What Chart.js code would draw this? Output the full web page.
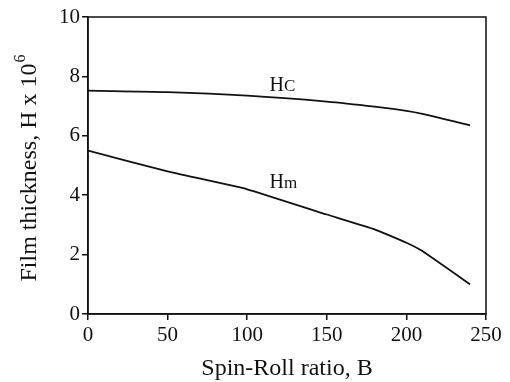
<!DOCTYPE html>
<html>
<head>
<meta charset="utf-8">
<script src="https://cdn.jsdelivr.net/npm/chart.js@4"></script>
<style>
  html, body { margin: 0; padding: 0; background: #fff; }
  #wrap { width: 510px; height: 382px; }
</style>
</head>
<body>
<div id="wrap"><canvas id="chart"></canvas></div>
<script>
// 数据
const ratioB = [0, 50, 100, 150, 180, 200, 210, 240];
const hcValues = [7.52, 7.47, 7.35, 7.15, 6.98, 6.84, 6.74, 6.35];
const hmValues = [5.5, 4.8, 4.2, 3.35, 2.85, 2.4, 2.12, 1.0];
const xTicks = [0, 50, 100, 150, 200, 250];
const yTicks = [0, 2, 4, 6, 8, 10];

const serif = '"Liberation Serif", "DejaVu Serif", serif';
const ink = '#111';

// 曲线标签、边框和坐标轴标题
const decorPlugin = {
    id: 'decor',
    afterDraw(chart) {
        const { ctx, chartArea: a, scales } = chart;
        ctx.save();
        ctx.strokeStyle = ink;
        ctx.lineWidth = 1.5;
        ctx.strokeRect(a.left, a.top, a.right - a.left, a.bottom - a.top);

        ctx.fillStyle = ink;
        ctx.textBaseline = 'alphabetic';
        ctx.textAlign = 'left';
        const lx = scales.x.getPixelForValue(114);
        drawSub(ctx, 'H', 'C', lx, scales.y.getPixelForValue(7.51));
        drawSub(ctx, 'H', 'm', lx, scales.y.getPixelForValue(4.24));

        // x title
        ctx.font = '24px ' + serif;
        ctx.textAlign = 'center';
        ctx.fillText('Spin-Roll ratio, B', (a.left + a.right) / 2, 375);

        // y title with superscript
        ctx.translate(36, (a.top + a.bottom) / 2 + 3);
        ctx.rotate(-Math.PI / 2);
        const main = 'Film thickness, H x 10';
        ctx.font = '24px ' + serif;
        const w1 = ctx.measureText(main).width;
        ctx.font = '16px ' + serif;
        const w2 = ctx.measureText('6').width;
        const start = -(w1 + w2) / 2;
        ctx.textAlign = 'left';
        ctx.font = '24px ' + serif;
        ctx.fillText(main, start, 0);
        ctx.font = '16px ' + serif;
        ctx.fillText('6', start + w1 + 1, -11);
        ctx.restore();
    }
};

function drawSub(ctx, big, small, x, y) {
    ctx.font = '20px ' + serif;
    ctx.fillText(big, x, y);
    const w = ctx.measureText(big).width;
    ctx.font = '17px ' + serif;
    ctx.fillText(small, x + w, y);
}

const ctx = document.getElementById('chart').getContext('2d');
new Chart(ctx, {
    type: 'line',
    data: {
        datasets: [
            {
                label: 'Hc',
                data: ratioB.map((b, i) => ({ x: b, y: hcValues[i] })),
                borderColor: ink,
                borderWidth: 1.8,
                pointRadius: 0,
                tension: 0.3,
                fill: false
            },
            {
                label: 'Hm',
                data: ratioB.map((b, i) => ({ x: b, y: hmValues[i] })),
                borderColor: ink,
                borderWidth: 1.8,
                pointRadius: 0,
                tension: 0.1,
                fill: false
            }
        ]
    },
    options: {
        responsive: true,
        maintainAspectRatio: false,
        animation: false,
        layout: { padding: { left: 0, top: 17, right: 24, bottom: 0 } },
        plugins: {
            legend: { display: false },
            tooltip: { enabled: false }
        },
        scales: {
            x: {
                type: 'linear',
                min: 0,
                max: 250,
                afterBuildTicks: s => { s.ticks = xTicks.map(v => ({ value: v })); },
                afterFit: s => { s.height = 68; },
                ticks: { color: ink, font: { family: serif, size: 21 }, padding: 3, maxRotation: 0 },
                grid: { drawOnChartArea: false, drawTicks: true, tickLength: 6, color: ink, lineWidth: 1.5 },
                border: { display: true, color: ink, width: 1.5 }
            },
            y: {
                type: 'linear',
                min: 0,
                max: 10,
                afterBuildTicks: s => { s.ticks = yTicks.map(v => ({ value: v })); },
                afterFit: s => { s.width = 88; },
                ticks: { color: ink, font: { family: serif, size: 21 }, padding: 2 },
                grid: { drawOnChartArea: false, drawTicks: true, tickLength: 6, color: ink, lineWidth: 1.5 },
                border: { display: true, color: ink, width: 1.5 }
            }
        }
    },
    plugins: [decorPlugin]
});
</script>
</body>
</html>
